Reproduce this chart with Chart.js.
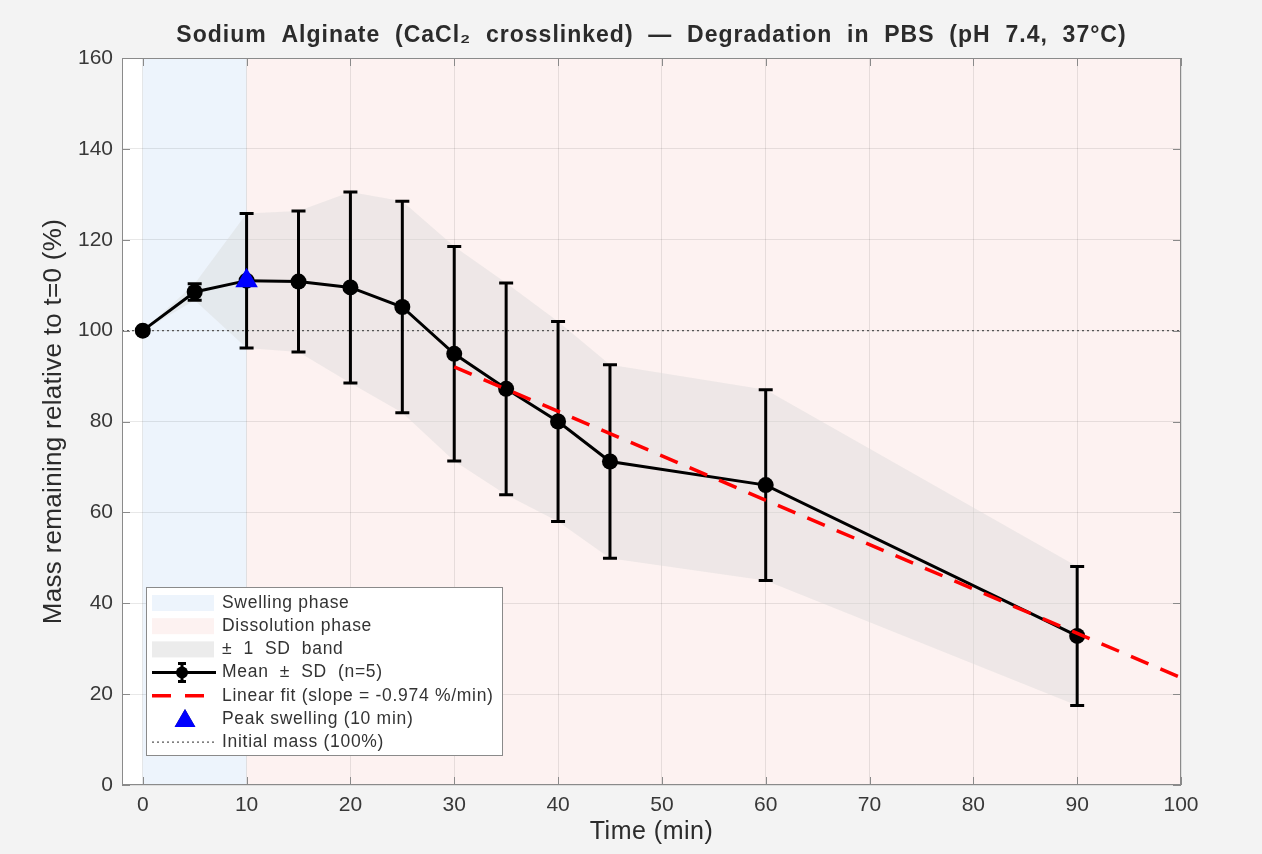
<!DOCTYPE html>
<html>
<head>
<meta charset="utf-8">
<script src="https://cdn.jsdelivr.net/npm/chart.js@4.4.1/dist/chart.umd.min.js"></script>
<style>
    html, body { margin: 0; padding: 0; background: #f3f3f3; }
    canvas { display: block; }
</style>
</head>
<body>
<canvas id="chart" width="1262" height="854"></canvas>
<script>
// Data
const timeMin  = [0, 5, 10, 15, 20, 25, 30, 35, 40, 45, 60, 90];
const meanMass = [100, 108.5, 111, 110.8, 109.5, 105.2, 94.9, 87.2, 80.0, 71.2, 66.0, 32.8];
const sdMass   = [0, 1.8, 14.8, 15.5, 21.0, 23.3, 23.6, 23.3, 22.0, 21.3, 21.0, 15.3];

const fitTime = [30, 100];
const fitMass = [92.0, 23.6];

const peakTime = [10];
const peakMass = [111];

const initialMass = 100;
const swellingPhase = [0, 10];
const dissolutionPhase = [10, 100];

const xTickValues = [0, 10, 20, 30, 40, 50, 60, 70, 80, 90, 100];
const yTickValues = [0, 20, 40, 60, 80, 100, 120, 140, 160];

const titleText = 'Sodium  Alginate  (CaCl\u2082  crosslinked)  \u2014  Degradation  in  PBS  (pH  7.4,  37\u00b0C)';
const xTitleText = 'Time (min)';
const yTitleText = 'Mass remaining relative to t=0 (%)';

const legendLabels = [
    'Swelling phase',
    'Dissolution phase',
    '\u00b1  1  SD  band',
    'Mean  \u00b1  SD  (n=5)',
    'Linear fit (slope = -0.974 %/min)',
    'Peak swelling (10 min)',
    'Initial mass (100%)'
];

const FONT = "'Liberation Sans', Arial, sans-serif";
const AXIS_COLOR = '#8a8a8a';
const TEXT_COLOR = '#2b2b2b';
const SWELL_COLOR = '#edf4fc';
const DISSOLVE_COLOR = '#fdf2f1';
const BAND_COLOR = 'rgba(217, 217, 217, 0.42)';

const xy = (xs, ys) => xs.map((x, i) => ({ x: x, y: ys[i] }));

// Phase shading behind everything
const phasePlugin = {
    id: 'phases',
    beforeDraw(chart) {
        const { ctx, chartArea: a, scales: { x } } = chart;
        ctx.save();
        ctx.fillStyle = '#ffffff';
        ctx.fillRect(a.left, a.top, a.right - a.left, a.bottom - a.top);
        ctx.fillStyle = SWELL_COLOR;
        let x0 = x.getPixelForValue(swellingPhase[0]), x1 = x.getPixelForValue(swellingPhase[1]);
        ctx.fillRect(x0, a.top, x1 - x0, a.bottom - a.top);
        ctx.fillStyle = DISSOLVE_COLOR;
        x0 = x.getPixelForValue(dissolutionPhase[0]);
        x1 = x.getPixelForValue(dissolutionPhase[1]);
        ctx.fillRect(x0, a.top, x1 - x0, a.bottom - a.top);
        ctx.restore();
    }
};

// Error bars under the mean markers
const errorBarPlugin = {
    id: 'errorBars',
    beforeDatasetDraw(chart, args) {
        if (chart.data.datasets[args.index].label !== 'mean') return;
        const { ctx, scales: { x, y } } = chart;
        ctx.save();
        ctx.strokeStyle = '#000';
        ctx.lineWidth = 3;
        timeMin.forEach((t, i) => {
            if (!sdMass[i]) return;
            const px = x.getPixelForValue(t);
            const top = y.getPixelForValue(meanMass[i] + sdMass[i]);
            const bot = y.getPixelForValue(meanMass[i] - sdMass[i]);
            ctx.beginPath();
            ctx.moveTo(px, top); ctx.lineTo(px, bot);
            ctx.moveTo(px - 7, top); ctx.lineTo(px + 7, top);
            ctx.moveTo(px - 7, bot); ctx.lineTo(px + 7, bot);
            ctx.stroke();
        });
        ctx.restore();
    }
};

// Axis box with inward ticks on all sides
const boxPlugin = {
    id: 'axisBox',
    afterDatasetsDraw(chart) {
        const { ctx, chartArea: a, scales: { x, y } } = chart;
        ctx.save();
        ctx.strokeStyle = AXIS_COLOR;
        ctx.lineWidth = 1;
        ctx.strokeRect(a.left + 0.5, a.top + 0.5, a.right - a.left - 1, a.bottom - a.top - 1);
        ctx.beginPath();
        xTickValues.forEach(v => {
            const px = Math.round(x.getPixelForValue(v)) + 0.5;
            ctx.moveTo(px, a.bottom); ctx.lineTo(px, a.bottom - 8);
            ctx.moveTo(px, a.top); ctx.lineTo(px, a.top + 8);
        });
        yTickValues.forEach(v => {
            const py = Math.round(y.getPixelForValue(v)) + 0.5;
            ctx.moveTo(a.left, py); ctx.lineTo(a.left + 8, py);
            ctx.moveTo(a.right, py); ctx.lineTo(a.right - 8, py);
        });
        ctx.stroke();
        ctx.restore();
    }
};

// Title and axis titles (drawn here so letter spacing can be set)
const titlesPlugin = {
    id: 'titles',
    afterDraw(chart) {
        const { ctx, chartArea: a } = chart;
        const cx = (a.left + a.right) / 2;
        ctx.save();
        ctx.fillStyle = TEXT_COLOR;
        ctx.textAlign = 'center';
        ctx.textBaseline = 'middle';

        ctx.font = `bold 23px ${FONT}`;
        ctx.letterSpacing = '1px';
        ctx.fillText(titleText, cx, a.top - 22);

        ctx.font = `25px ${FONT}`;
        ctx.letterSpacing = '0.5px';
        ctx.fillText(xTitleText, cx, chart.height - 22);

        ctx.font = `26px ${FONT}`;
        ctx.letterSpacing = '0.3px';
        ctx.translate(54, (a.top + a.bottom) / 2);
        ctx.rotate(-Math.PI / 2);
        ctx.fillText(yTitleText, 0, 0);
        ctx.restore();
    }
};

// Legend box in the lower left of the axes
const legendPlugin = {
    id: 'boxLegend',
    afterDraw(chart) {
        const { ctx, chartArea: a } = chart;
        const bx = a.left + 24, bw = 356, bh = 168;
        const by = a.bottom - 30 - bh;
        const rowH = 23.2;
        const symL = bx + 6, symR = bx + 70, symC = (symL + symR) / 2 - 2;
        ctx.save();
        ctx.fillStyle = '#ffffff';
        ctx.fillRect(bx, by, bw, bh);
        ctx.strokeStyle = '#8a8a8a';
        ctx.lineWidth = 1;
        ctx.strokeRect(bx + 0.5, by + 0.5, bw, bh);

        legendLabels.forEach((label, i) => {
            const cy = by + 16 + i * rowH;
            ctx.save();
            if (i === 0 || i === 1 || i === 2) {
                ctx.fillStyle = [SWELL_COLOR, DISSOLVE_COLOR, '#ececec'][i];
                ctx.fillRect(symL, cy - 8, symR - symL - 2, 16);
            } else if (i === 3) {
                ctx.strokeStyle = '#000';
                ctx.lineWidth = 3;
                ctx.beginPath();
                ctx.moveTo(symL, cy); ctx.lineTo(symR, cy);
                ctx.moveTo(symC, cy - 9); ctx.lineTo(symC, cy + 9);
                ctx.moveTo(symC - 4, cy - 9); ctx.lineTo(symC + 4, cy - 9);
                ctx.moveTo(symC - 4, cy + 9); ctx.lineTo(symC + 4, cy + 9);
                ctx.stroke();
                ctx.fillStyle = '#000';
                ctx.beginPath();
                ctx.arc(symC, cy, 6, 0, Math.PI * 2);
                ctx.fill();
            } else if (i === 4) {
                ctx.strokeStyle = '#ff0000';
                ctx.lineWidth = 3.5;
                ctx.setLineDash([19, 14]);
                ctx.beginPath();
                ctx.moveTo(symL, cy); ctx.lineTo(symR, cy);
                ctx.stroke();
            } else if (i === 5) {
                Chart.helpers.drawPoint(ctx, { pointStyle: 'triangle', radius: 12, borderWidth: 0 }, symC + 3, cy + 2);
                ctx.fillStyle = '#0000ff';
                ctx.fill();
            } else {
                ctx.strokeStyle = '#555';
                ctx.lineWidth = 1.3;
                ctx.setLineDash([2, 3]);
                ctx.beginPath();
                ctx.moveTo(symL, cy); ctx.lineTo(symR, cy);
                ctx.stroke();
            }
            ctx.restore();
            ctx.fillStyle = '#333';
            ctx.font = `17.5px ${FONT}`;
            ctx.letterSpacing = '0.7px';
            ctx.textBaseline = 'middle';
            ctx.fillText(label, bx + 76, cy);
        });
        ctx.restore();
    }
};

const bandUpper = timeMin.map((t, i) => ({ x: t, y: meanMass[i] + sdMass[i] }));
const bandLower = timeMin.map((t, i) => ({ x: t, y: meanMass[i] - sdMass[i] }));

new Chart(document.getElementById('chart'), {
    type: 'line',
    data: {
        datasets: [
            {
                label: 'bandLower',
                data: bandLower,
                borderWidth: 0,
                pointRadius: 0,
                fill: false,
                order: 20
            },
            {
                label: 'bandUpper',
                data: bandUpper,
                borderWidth: 0,
                pointRadius: 0,
                backgroundColor: BAND_COLOR,
                fill: '-1',
                order: 19
            },
            {
                label: 'initial',
                data: [{ x: -2, y: initialMass }, { x: 100, y: initialMass }],
                borderColor: '#555',
                borderWidth: 1.3,
                borderDash: [2, 3],
                pointRadius: 0,
                fill: false,
                order: 10
            },
            {
                label: 'mean',
                data: xy(timeMin, meanMass),
                borderColor: '#000',
                borderWidth: 3,
                pointRadius: 8,
                pointBackgroundColor: '#000',
                pointBorderWidth: 0,
                fill: false,
                order: 5
            },
            {
                label: 'fit',
                data: xy(fitTime, fitMass),
                borderColor: '#ff0000',
                borderWidth: 3.5,
                borderDash: [19, 13],
                pointRadius: 0,
                fill: false,
                order: 3
            },
            {
                label: 'peak',
                data: xy(peakTime, peakMass),
                showLine: false,
                pointStyle: 'triangle',
                pointRadius: 13,
                pointBackgroundColor: '#0000ff',
                pointBorderWidth: 0,
                order: 1
            }
        ]
    },
    options: {
        responsive: false,
        animation: false,
        devicePixelRatio: 1,
        layout: { padding: { left: 0, right: 81, top: 58, bottom: 0 } },
        plugins: {
            legend: { display: false },
            tooltip: { enabled: false },
            title: { display: false }
        },
        scales: {
            x: {
                type: 'linear',
                min: -2,
                max: 100,
                afterBuildTicks: s => { s.ticks = xTickValues.map(v => ({ value: v })); },
                afterFit: s => { s.height = 69; },
                grid: { color: 'rgba(0,0,0,0.09)', drawTicks: false },
                border: { display: false },
                ticks: {
                    color: '#383838',
                    font: { family: FONT, size: 21 },
                    padding: 8,
                    maxRotation: 0
                }
            },
            y: {
                type: 'linear',
                min: 0,
                max: 160,
                afterBuildTicks: s => { s.ticks = yTickValues.map(v => ({ value: v })); },
                afterFit: s => { s.width = 122; },
                grid: { color: 'rgba(0,0,0,0.09)', drawTicks: false },
                border: { display: false },
                ticks: {
                    color: '#383838',
                    font: { family: FONT, size: 21 },
                    padding: 9
                }
            }
        }
    },
    plugins: [phasePlugin, errorBarPlugin, boxPlugin, titlesPlugin, legendPlugin]
});
</script>
</body>
</html>
